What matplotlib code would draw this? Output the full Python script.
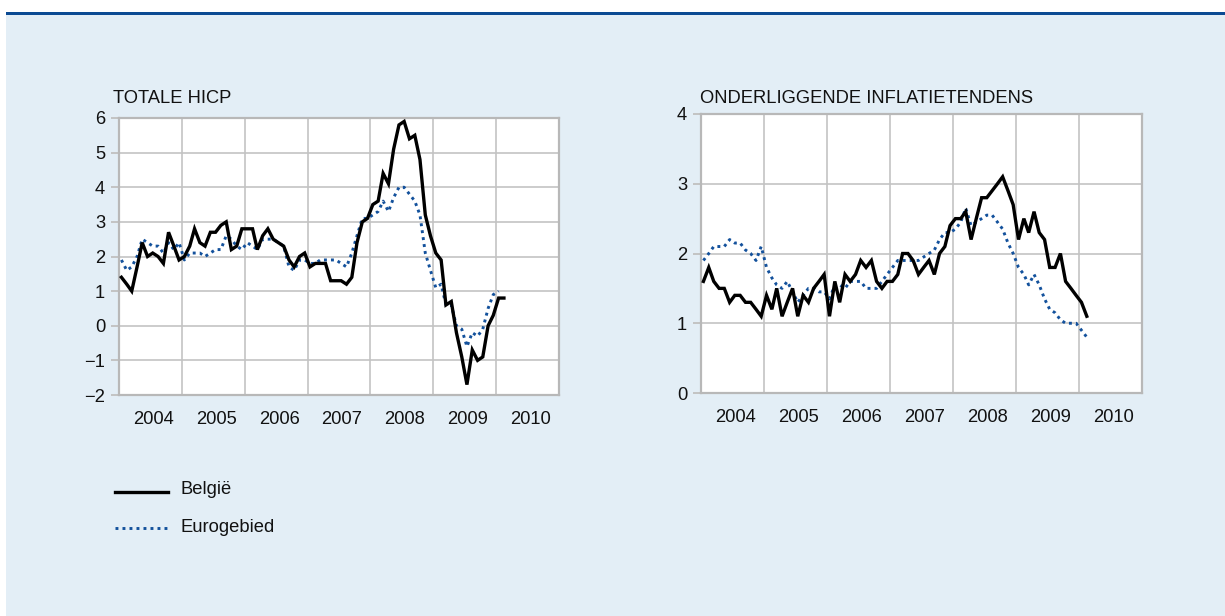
import matplotlib
matplotlib.use('Agg')
import matplotlib.pyplot as plt
import matplotlib.dates as mdates
from matplotlib.ticker import NullFormatter
from matplotlib.patches import Rectangle
from matplotlib.lines import Line2D
import pandas as pd

plt.rcParams['font.family'] = ['Liberation Sans', 'DejaVu Sans']

# ---------------- data (monthly, starting January 2004) ----------------
start_month = '2004-01-01'

hicp_belgie = [
    1.4, 1.2, 1.0, 1.7, 2.4, 2.0, 2.1, 2.0, 1.8, 2.7, 2.3, 1.9,
    2.0, 2.3, 2.8, 2.4, 2.3, 2.7, 2.7, 2.9, 3.0, 2.2, 2.3, 2.8,
    2.8, 2.8, 2.2, 2.6, 2.8, 2.5, 2.4, 2.3, 1.9, 1.7, 2.0, 2.1,
    1.7, 1.8, 1.8, 1.8, 1.3, 1.3, 1.3, 1.2, 1.4, 2.4, 3.0, 3.1,
    3.5, 3.6, 4.4, 4.1, 5.1, 5.8, 5.9, 5.4, 5.5, 4.8, 3.2, 2.6,
    2.1, 1.9, 0.6, 0.7, -0.2, -0.9, -1.7, -0.7, -1.0, -0.9, 0.0, 0.3,
    0.8, 0.8,
]
hicp_euro = [
    1.9, 1.6, 1.7, 2.0, 2.5, 2.4, 2.3, 2.3, 2.1, 2.4, 2.2, 2.4,
    1.9, 2.1, 2.1, 2.1, 2.0, 2.1, 2.2, 2.2, 2.6, 2.5, 2.3, 2.2,
    2.4, 2.3, 2.2, 2.5, 2.5, 2.5, 2.4, 2.3, 1.7, 1.6, 1.9, 1.9,
    1.8, 1.8, 1.9, 1.9, 1.9, 1.9, 1.8, 1.7, 2.1, 2.6, 3.1, 3.1,
    3.2, 3.3, 3.6, 3.3, 3.7, 4.0, 4.0, 3.8, 3.6, 3.2, 2.1, 1.6,
    1.1, 1.2, 0.6, 0.6, 0.0, -0.1, -0.6, -0.2, -0.3, -0.1, 0.5, 0.9,
    1.0,
]
core_belgie = [
    1.6, 1.8, 1.6, 1.5, 1.5, 1.3, 1.4, 1.4, 1.3, 1.3, 1.2, 1.1,
    1.4, 1.2, 1.5, 1.1, 1.3, 1.5, 1.1, 1.4, 1.3, 1.5, 1.6, 1.7,
    1.1, 1.6, 1.3, 1.7, 1.6, 1.7, 1.9, 1.8, 1.9, 1.6, 1.5, 1.6,
    1.6, 1.7, 2.0, 2.0, 1.9, 1.7, 1.8, 1.9, 1.7, 2.0, 2.1, 2.4,
    2.5, 2.5, 2.6, 2.2, 2.5, 2.8, 2.8, 2.9, 3.0, 3.1, 2.9, 2.7,
    2.2, 2.5, 2.3, 2.6, 2.3, 2.2, 1.8, 1.8, 2.0, 1.6, 1.5, 1.4,
    1.3, 1.1,
]
core_euro = [
    1.9, 2.0, 2.1, 2.1, 2.1, 2.2, 2.15, 2.15, 2.05, 2.0, 1.9, 2.1,
    1.8, 1.65, 1.55, 1.5, 1.6, 1.45, 1.3, 1.4, 1.5, 1.5, 1.45, 1.45,
    1.35, 1.55, 1.55, 1.5, 1.6, 1.6, 1.6, 1.5, 1.5, 1.5, 1.6, 1.7,
    1.8, 1.9, 1.9, 1.9, 1.9, 1.9, 1.95, 2.0, 2.05, 2.2, 2.3, 2.3,
    2.35, 2.45, 2.65, 2.4, 2.45, 2.5, 2.55, 2.55, 2.45, 2.35, 2.15, 2.0,
    1.8, 1.7, 1.55, 1.7, 1.55, 1.35, 1.2, 1.15, 1.05, 1.0, 1.0, 1.0,
    0.9, 0.8,
]

titles = ['TOTALE HICP', 'ONDERLIGGENDE INFLATIETENDENS']
series_labels = ['België', 'Eurogebied']
left_yticks = [-2, -1, 0, 1, 2, 3, 4, 5, 6]
right_yticks = [0, 1, 2, 3, 4]


def month_dates(n):
    return pd.date_range(start_month, periods=n, freq='MS') + pd.Timedelta(days=14)


# ---------------- figure ----------------
W, H = 1225, 616
fig = plt.figure(figsize=(W / 100, H / 100), dpi=100, facecolor='white')
fig.add_artist(Rectangle((6 / W, 0), 1 - 6 / W, (H - 15) / H,
                         transform=fig.transFigure, facecolor='#e3eef6',
                         edgecolor='none', zorder=0))
fig.add_artist(Rectangle((6 / W, (H - 15) / H), 1 - 6 / W, 3 / H,
                         transform=fig.transFigure, facecolor='#0b4a93',
                         edgecolor='none', zorder=0))


def px_axes(l, t, r, b):
    return fig.add_axes([l / W, 1 - b / H, (r - l) / W, (b - t) / H])


BLACK = '#000000'
BLUE = '#13519c'
GRID = '#c3c3c3'
FS = 13.2


def style(ax, ylim, yticks):
    ax.set_facecolor('white')
    ax.set_xlim(pd.Timestamp('2004-01-01'), pd.Timestamp('2011-01-01'))
    ax.set_ylim(*ylim)
    ax.set_yticks(yticks)
    ax.set_yticklabels([str(v).replace('-', '\u2212') for v in yticks])
    ax.xaxis.set_major_locator(mdates.YearLocator())
    ax.xaxis.set_major_formatter(NullFormatter())
    ax.xaxis.set_minor_locator(mdates.MonthLocator(bymonth=7, bymonthday=20))
    ax.xaxis.set_minor_formatter(mdates.DateFormatter('%Y'))
    ax.tick_params(axis='x', which='both', length=0, pad=11.5,
                   labelsize=FS, labelcolor='#111111')
    ax.tick_params(axis='y', length=6, width=1.4, color=GRID, pad=4,
                   labelsize=FS, labelcolor='#111111')
    ax.grid(True, which='major', color=GRID, lw=1.2)
    ax.set_axisbelow(True)
    for s in ax.spines.values():
        s.set_color('#b8b8b8')
        s.set_linewidth(1.6)


def draw(ax, be, ez):
    ax.plot(month_dates(len(ez)), ez, color=BLUE, lw=2.1,
            linestyle=(0, (1, 1.4)), dash_capstyle='butt', zorder=3)
    ax.plot(month_dates(len(be)), be, color=BLACK, lw=2.4,
            solid_joinstyle='miter', zorder=4)


ax1 = px_axes(119, 118, 559, 395)
style(ax1, (-2, 6), left_yticks)
draw(ax1, hicp_belgie, hicp_euro)

ax2 = px_axes(701, 114, 1142, 393)
style(ax2, (0, 4), right_yticks)
draw(ax2, core_belgie, core_euro)

fig.text(113 / W, 1 - 103 / H, titles[0], ha='left', va='baseline',
         fontsize=FS, color='#111111')
fig.text(700 / W, 1 - 103 / H, titles[1], ha='left', va='baseline',
         fontsize=FS, color='#111111')

# legend
fig.add_artist(Line2D([115 / W, 168 / W], [1 - 492 / H, 1 - 492 / H],
                      transform=fig.transFigure, color=BLACK, lw=2.4))
fig.add_artist(Line2D([115 / W, 168 / W], [1 - 528 / H, 1 - 528 / H],
                      transform=fig.transFigure, color=BLUE, lw=2.1,
                      linestyle=(0, (1, 1.4)), dash_capstyle='butt'))
fig.text(181 / W, 1 - 490 / H, series_labels[0], ha='left', va='center',
         fontsize=FS, color='#111111')
fig.text(181 / W, 1 - 527 / H, series_labels[1], ha='left', va='center',
         fontsize=FS, color='#111111')

fig.savefig('out.png', dpi=100, facecolor=fig.get_facecolor())
